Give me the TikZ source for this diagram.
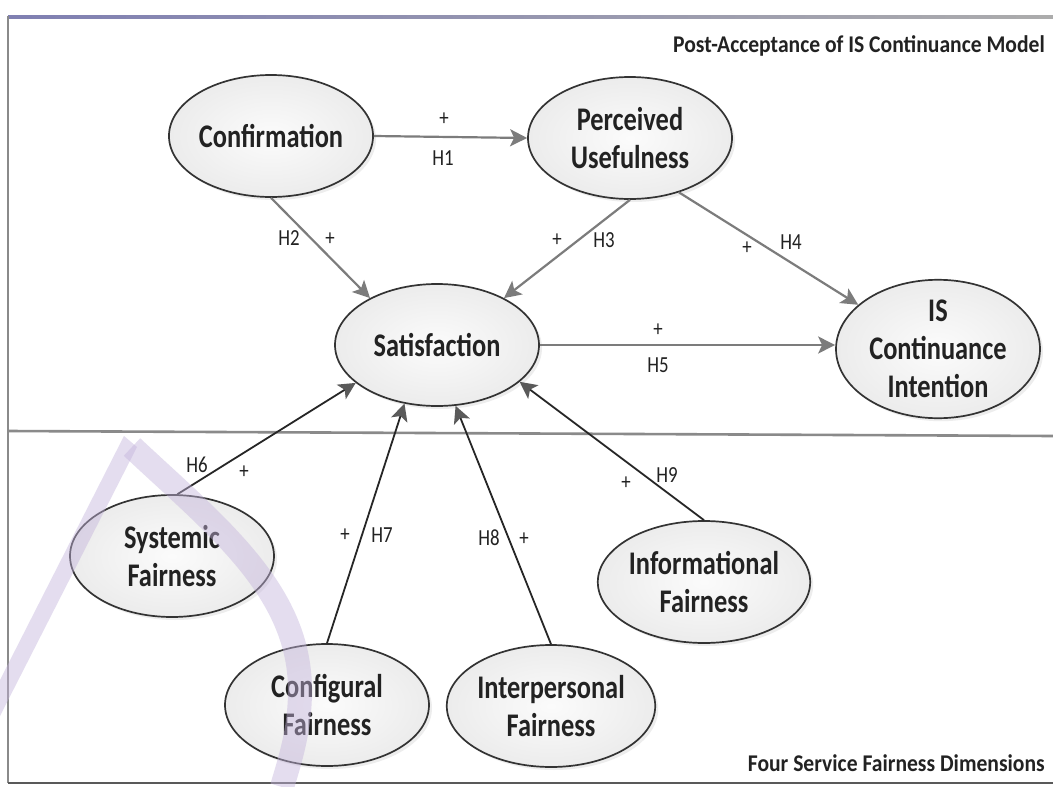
\documentclass[tikz,border=0pt]{standalone}
\usepackage{fontspec}
\setmainfont{Carlito}
\newfontfamily\nodefont{Carlito}[FakeStretch=0.8]
\newfontfamily\labfont{Carlito}[FakeStretch=0.82]
\newfontfamily\headfont{Carlito}[FakeStretch=0.9]
\usetikzlibrary{arrows.meta,shapes.geometric,shadows}

\definecolor{inkdark}{HTML}{222222}
\definecolor{arrowgray}{HTML}{7C7C7C}
\definecolor{tipgray}{HTML}{5A5A5A}
\definecolor{framegray}{HTML}{8A8A8A}
\definecolor{markpurple}{RGB}{196,180,220}

\tikzset{
  latent/.style={ellipse, draw=black!80, line width=1.7pt,
    inner color=gray!3, outer color=gray!15,
    drop shadow={opacity=0.14, shadow xshift=3pt, shadow yshift=-3pt},
    minimum width=204pt, minimum height=122pt, inner sep=0pt,
    align=center, text=inkdark,
    font=\nodefont\bfseries\fontsize{33}{38}\selectfont},
  hyplabel/.style={inner sep=0pt, text=inkdark,
    font=\labfont\fontsize{23}{26}\selectfont},
  headline/.style={inner sep=0pt, anchor=east, text=inkdark,
    font=\headfont\bfseries\fontsize{24}{27}\selectfont},
  toplink/.style={draw=arrowgray, line width=2.2pt,
    -{Stealth[length=17pt,width=17pt,inset=4pt,color=arrowgray]}},
  fairlink/.style={draw=black!85, line width=1.8pt,
    -{Stealth[length=17pt,width=17pt,inset=4pt,color=tipgray]}},
}

\begin{document}
\begin{tikzpicture}[x=1pt,y=-1pt]
\useasboundingbox (0,0) rectangle (1053,787);
\fill[white] (0,0) rectangle (1053,787);

% frame and the line between the two parts of the model
\shade[left color=blue!25!gray!80, right color=gray!65] (8,15) rectangle (1053,18);
\draw[framegray, line width=1.2pt] (8,16) -- (8,783);
\draw[black!65, line width=2pt] (8,783) -- (1053,783);
\draw[framegray, line width=2.6pt] (8,431) -- (1053,436);

% headings
\node[headline] (head1) at (1045,46) {Post-Acceptance of IS Continuance Model};
\node[headline] (head2) at (1045,763) {Four Service Fairness Dimensions};

% constructs
\node[latent] (conf) at (271,136) {Confirmation};
\node[latent] (pu)   at (630,138) {Perceived\\Usefulness};
\node[latent] (sat)  at (437,345) {Satisfaction};
\node[latent, minimum height=118pt] (isci) at (938,349) {IS\\Continuance\\Intention};
\node[latent] (sys)  at (172,556) {Systemic\\Fairness};
\node[latent] (cfg)  at (327,705) {Configural\\Fairness};
\node[latent] (ipf)  at (551,706) {Interpersonal\\Fairness};
\node[latent] (inf)  at (704,582) {Informational\\Fairness};

% hypothesised paths
\draw[toplink] (conf.east) -- (pu.west);
\draw[toplink] (conf.south) -- (sat.145);
\draw[toplink] (pu.south) -- (sat.35);
\draw[toplink] (pu.-48) -- (isci.151);
\draw[toplink] (sat.east) -- (sat.east -| isci.west);
\draw[fairlink] (sys.85) -- (sat.205);
\draw[fairlink] (cfg.north) -- (sat.241);
\draw[fairlink] (ipf.north) -- (sat.287);
\draw[fairlink] (inf.north) -- (sat.-24);

% path labels
\node[hyplabel] (p1) at (444,119) {+};
\node[hyplabel] (h1) at (443,158) {H1};
\node[hyplabel] (h2) at (289,238) {H2};
\node[hyplabel] (p2) at (330,239) {+};
\node[hyplabel] (p3) at (557,240) {+};
\node[hyplabel] (h3) at (604,240) {H3};
\node[hyplabel] (p4) at (747,248) {+};
\node[hyplabel] (h4) at (791,242) {H4};
\node[hyplabel] (p5) at (658,330) {+};
\node[hyplabel] (h5) at (658,365) {H5};
\node[hyplabel] (h6) at (197,465) {H6};
\node[hyplabel] (p6) at (244,472) {+};
\node[hyplabel] (p7) at (345,535) {+};
\node[hyplabel] (h7) at (382,535) {H7};
\node[hyplabel] (h8) at (489,538) {H8};
\node[hyplabel] (p8) at (524,539) {+};
\node[hyplabel] (p9) at (626,483) {+};
\node[hyplabel] (h9) at (667,475) {H9};

% faint purple mark in the lower left corner
\begin{scope}[opacity=0.45]
  \fill[markpurple] (124,436) -- (137,447) -- (0,716) -- (0,680) -- cycle;
  \draw[markpurple, line width=24pt]
    (132,447) .. controls (215,525) and (300,590) .. (300,690)
    .. controls (300,730) and (290,760) .. (282,787);
\end{scope}
\end{tikzpicture}
\end{document}
